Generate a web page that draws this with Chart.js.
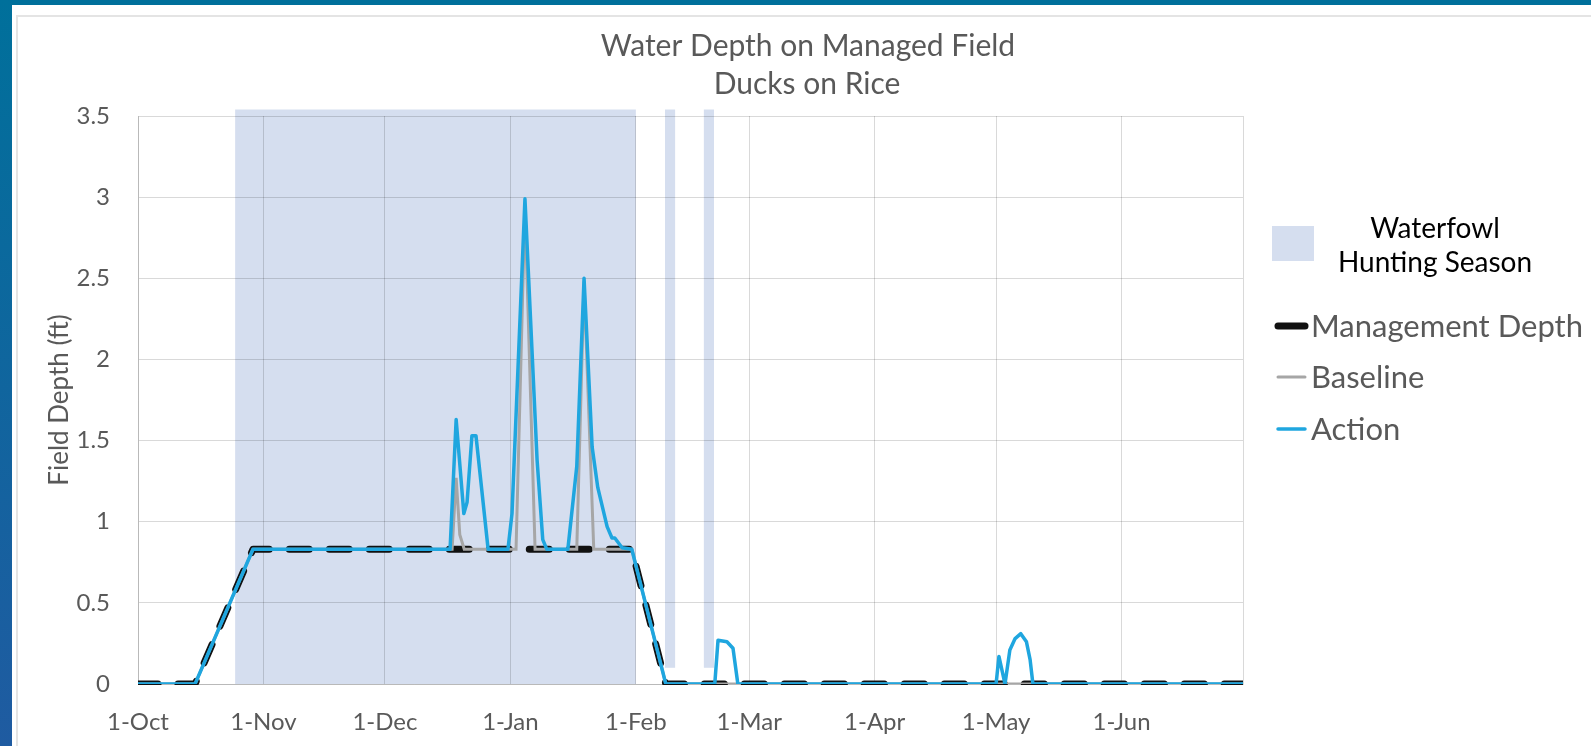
<!DOCTYPE html>
<html>
<head>
<meta charset="utf-8">
<title>Water Depth on Managed Field</title>
<script src="https://cdn.jsdelivr.net/npm/chart.js@4.4.1/dist/chart.umd.min.js"></script>
<style>
  html, body { margin: 0; padding: 0; background: #fff; }
  body { width: 1591px; height: 746px; position: relative; overflow: hidden; }
  #topbar { position: absolute; left: 0; top: 0; width: 1591px; height: 5px; background: #00709b; }
  #sidebar { position: absolute; left: 0; top: 0; width: 12px; height: 746px; background: linear-gradient(#00709b, #1f5ba1); }
  #panel { position: absolute; left: 16px; top: 15px; right: 0; bottom: 0; border-left: 2px solid #e4e4e4; border-top: 2px solid #e4e4e4; }
  #chart { position: absolute; left: 0; top: 0; }
</style>
</head>
<body>
<div id="topbar"></div>
<div id="sidebar"></div>
<div id="panel"></div>
<canvas id="chart" width="1591" height="746"></canvas>
<script>
// x values are days counted from 1-Oct
const monthDays   = [0, 31, 61, 92, 123, 151, 182, 212, 243, 273];
const monthLabels = ['1-Oct', '1-Nov', '1-Dec', '1-Jan', '1-Feb', '1-Mar', '1-Apr', '1-May', '1-Jun', ''];
const depthTicks  = [0, 0.5, 1, 1.5, 2, 2.5, 3, 3.5];

// waterfowl hunting season blocks
const seasonStart = [24.0, 130.2, 139.8];
const seasonEnd   = [123.0, 132.7, 142.3];
const seasonFloor = [0, 0.1, 0.1];
const seasonTop   = 3.54;

const mgmtDays  = [0, 14.1, 28.4, 122.0, 130.4, 273];
const mgmtDepth = [0, 0, 0.83, 0.83, 0, 0];

const baseDays  = [0, 14.1, 28.4, 77.6, 78.6, 79.5, 80.6, 93.4, 95.6, 98.1, 108.4, 110.2, 112.6, 122.0, 130.4, 273];
const baseDepth = [0, 0, 0.83, 0.83, 1.27, 0.92, 0.83, 0.83, 2.95, 0.83, 0.83, 2.48, 0.83, 0.83, 0, 0];

const actionDays  = [0, 14.1, 28.4, 77.1, 78.6, 80.5, 81.3, 82.5, 83.5, 86.5, 91.4, 92.4, 95.6, 98.6, 100.0, 101.0,
                     106.2, 108.4, 110.2, 112.2, 113.6, 115.9, 117.1, 117.8, 119.6, 122.0, 130.4,
                     142.5, 143.3, 145.5, 147.0, 148.2,
                     212.0, 212.7, 214.2, 215.4, 216.7, 218.1, 219.5, 220.4, 221.1, 273];
const actionDepth = [0, 0, 0.83, 0.83, 1.63, 1.05, 1.12, 1.53, 1.53, 0.83, 0.83, 1.05, 2.99, 1.38, 0.89, 0.83,
                     0.83, 1.34, 2.50, 1.46, 1.21, 0.97, 0.90, 0.90, 0.84, 0.83, 0,
                     0, 0.27, 0.26, 0.22, 0,
                     0, 0.17, 0, 0.21, 0.28, 0.31, 0.26, 0.15, 0, 0];

const seasonColor = '#d5deef';
const gridColor = 'rgba(0,0,0,0.15)';
const textGrey = '#595959';
const actionBlue = '#1fa6df';
const FONT = 'Lato, "Open Sans", sans-serif';

function pts(xs, ys) {
  return xs.map((d, i) => ({ x: d, y: ys[i] }));
}

const seasonBands = {
  id: 'seasonBands',
  beforeDraw(chart) {
    const { ctx, scales: { x, y } } = chart;
    ctx.save();
    ctx.fillStyle = seasonColor;
    seasonStart.forEach((s, i) => {
      const l = x.getPixelForValue(s), r = x.getPixelForValue(seasonEnd[i]);
      const t = y.getPixelForValue(seasonTop), b = y.getPixelForValue(seasonFloor[i]);
      ctx.fillRect(l, t, r - l, b - t);
    });
    ctx.restore();
  }
};

const decor = {
  id: 'decor',
  afterDraw(chart) {
    const ctx = chart.ctx;
    ctx.save();
    ctx.textAlign = 'center';
    ctx.textBaseline = 'alphabetic';
    ctx.fillStyle = textGrey;
    ctx.font = '30px ' + FONT;
    ctx.fillText('Water Depth on Managed Field', 808, 56);
    ctx.fillText('Ducks on Rice', 807, 94);

    // legend
    ctx.fillStyle = seasonColor;
    ctx.fillRect(1272, 226, 42, 35);
    ctx.fillStyle = '#000';
    ctx.font = '28px ' + FONT;
    ctx.fillText('Waterfowl', 1435, 238);
    ctx.fillText('Hunting Season', 1435, 272);

    const rows = [
      { label: 'Management Depth', color: '#111', width: 7, y: 326 },
      { label: 'Baseline', color: '#a6a6a6', width: 3, y: 377 },
      { label: 'Action', color: actionBlue, width: 3.5, y: 429 }
    ];
    ctx.textAlign = 'left';
    ctx.font = '31px ' + FONT;
    rows.forEach(r => {
      ctx.strokeStyle = r.color;
      ctx.lineWidth = r.width;
      ctx.lineCap = 'round';
      ctx.beginPath();
      ctx.moveTo(1278, r.y);
      ctx.lineTo(1305, r.y);
      ctx.stroke();
      ctx.fillStyle = textGrey;
      ctx.fillText(r.label, 1311, r.y + 11);
    });
    ctx.restore();
  }
};

function draw() {
  new Chart(document.getElementById('chart'), {
    type: 'line',
    data: {
      datasets: [
        {
          label: 'Action',
          data: pts(actionDays, actionDepth),
          borderColor: actionBlue,
          borderWidth: 3.5,
          pointRadius: 0,
          borderJoinStyle: 'round',
          clip: { left: 0, top: 4, right: 0, bottom: 0 },
          order: 0
        },
        {
          label: 'Baseline',
          data: pts(baseDays, baseDepth),
          borderColor: '#a6a6a6',
          borderWidth: 3,
          pointRadius: 0,
          clip: { left: 0, top: 4, right: 0, bottom: 0 },
          order: 1
        },
        {
          label: 'Management Depth',
          data: pts(mgmtDays, mgmtDepth),
          borderColor: '#111',
          borderWidth: 7,
          borderDash: [20, 20],
          borderCapStyle: 'round',
          borderJoinStyle: 'round',
          pointRadius: 0,
          clip: { left: 0, top: 4, right: 0, bottom: 1 },
          order: 2
        }
      ]
    },
    options: {
      responsive: false,
      animation: false,
      events: [],
      layout: { padding: { left: 44, top: 116, right: 348, bottom: 0 } },
      plugins: {
        legend: { display: false },
        title: { display: false },
        tooltip: { enabled: false }
      },
      scales: {
        x: {
          type: 'linear',
          min: 0,
          max: 273,
          afterBuildTicks: s => { s.ticks = monthDays.map(v => ({ value: v })); },
          afterFit: s => { s.height = 62; },
          ticks: {
            autoSkip: false,
            maxRotation: 0,
            padding: 24,
            color: textGrey,
            font: { family: FONT, size: 24 },
            callback: v => monthLabels[monthDays.indexOf(v)] || ''
          },
          grid: { color: gridColor, drawTicks: false },
          border: { color: gridColor }
        },
        y: {
          min: 0,
          max: 3.5,
          afterBuildTicks: s => { s.ticks = depthTicks.map(v => ({ value: v })); },
          afterFit: s => { s.width = 138 - 44; },
          ticks: {
            padding: 28,
            color: textGrey,
            font: { family: FONT, size: 24 },
            callback: v => String(v)
          },
          grid: { color: gridColor, drawTicks: false },
          border: { color: gridColor },
          title: {
            display: true,
            text: 'Field Depth (ft)',
            color: textGrey,
            font: { family: FONT, size: 26 },
            padding: 0
          }
        }
      }
    },
    plugins: [seasonBands, decor]
  });
}

if (document.fonts && document.fonts.load) {
  document.fonts.load('24px Lato').then(draw, draw);
} else {
  draw();
}
</script>
</body>
</html>
